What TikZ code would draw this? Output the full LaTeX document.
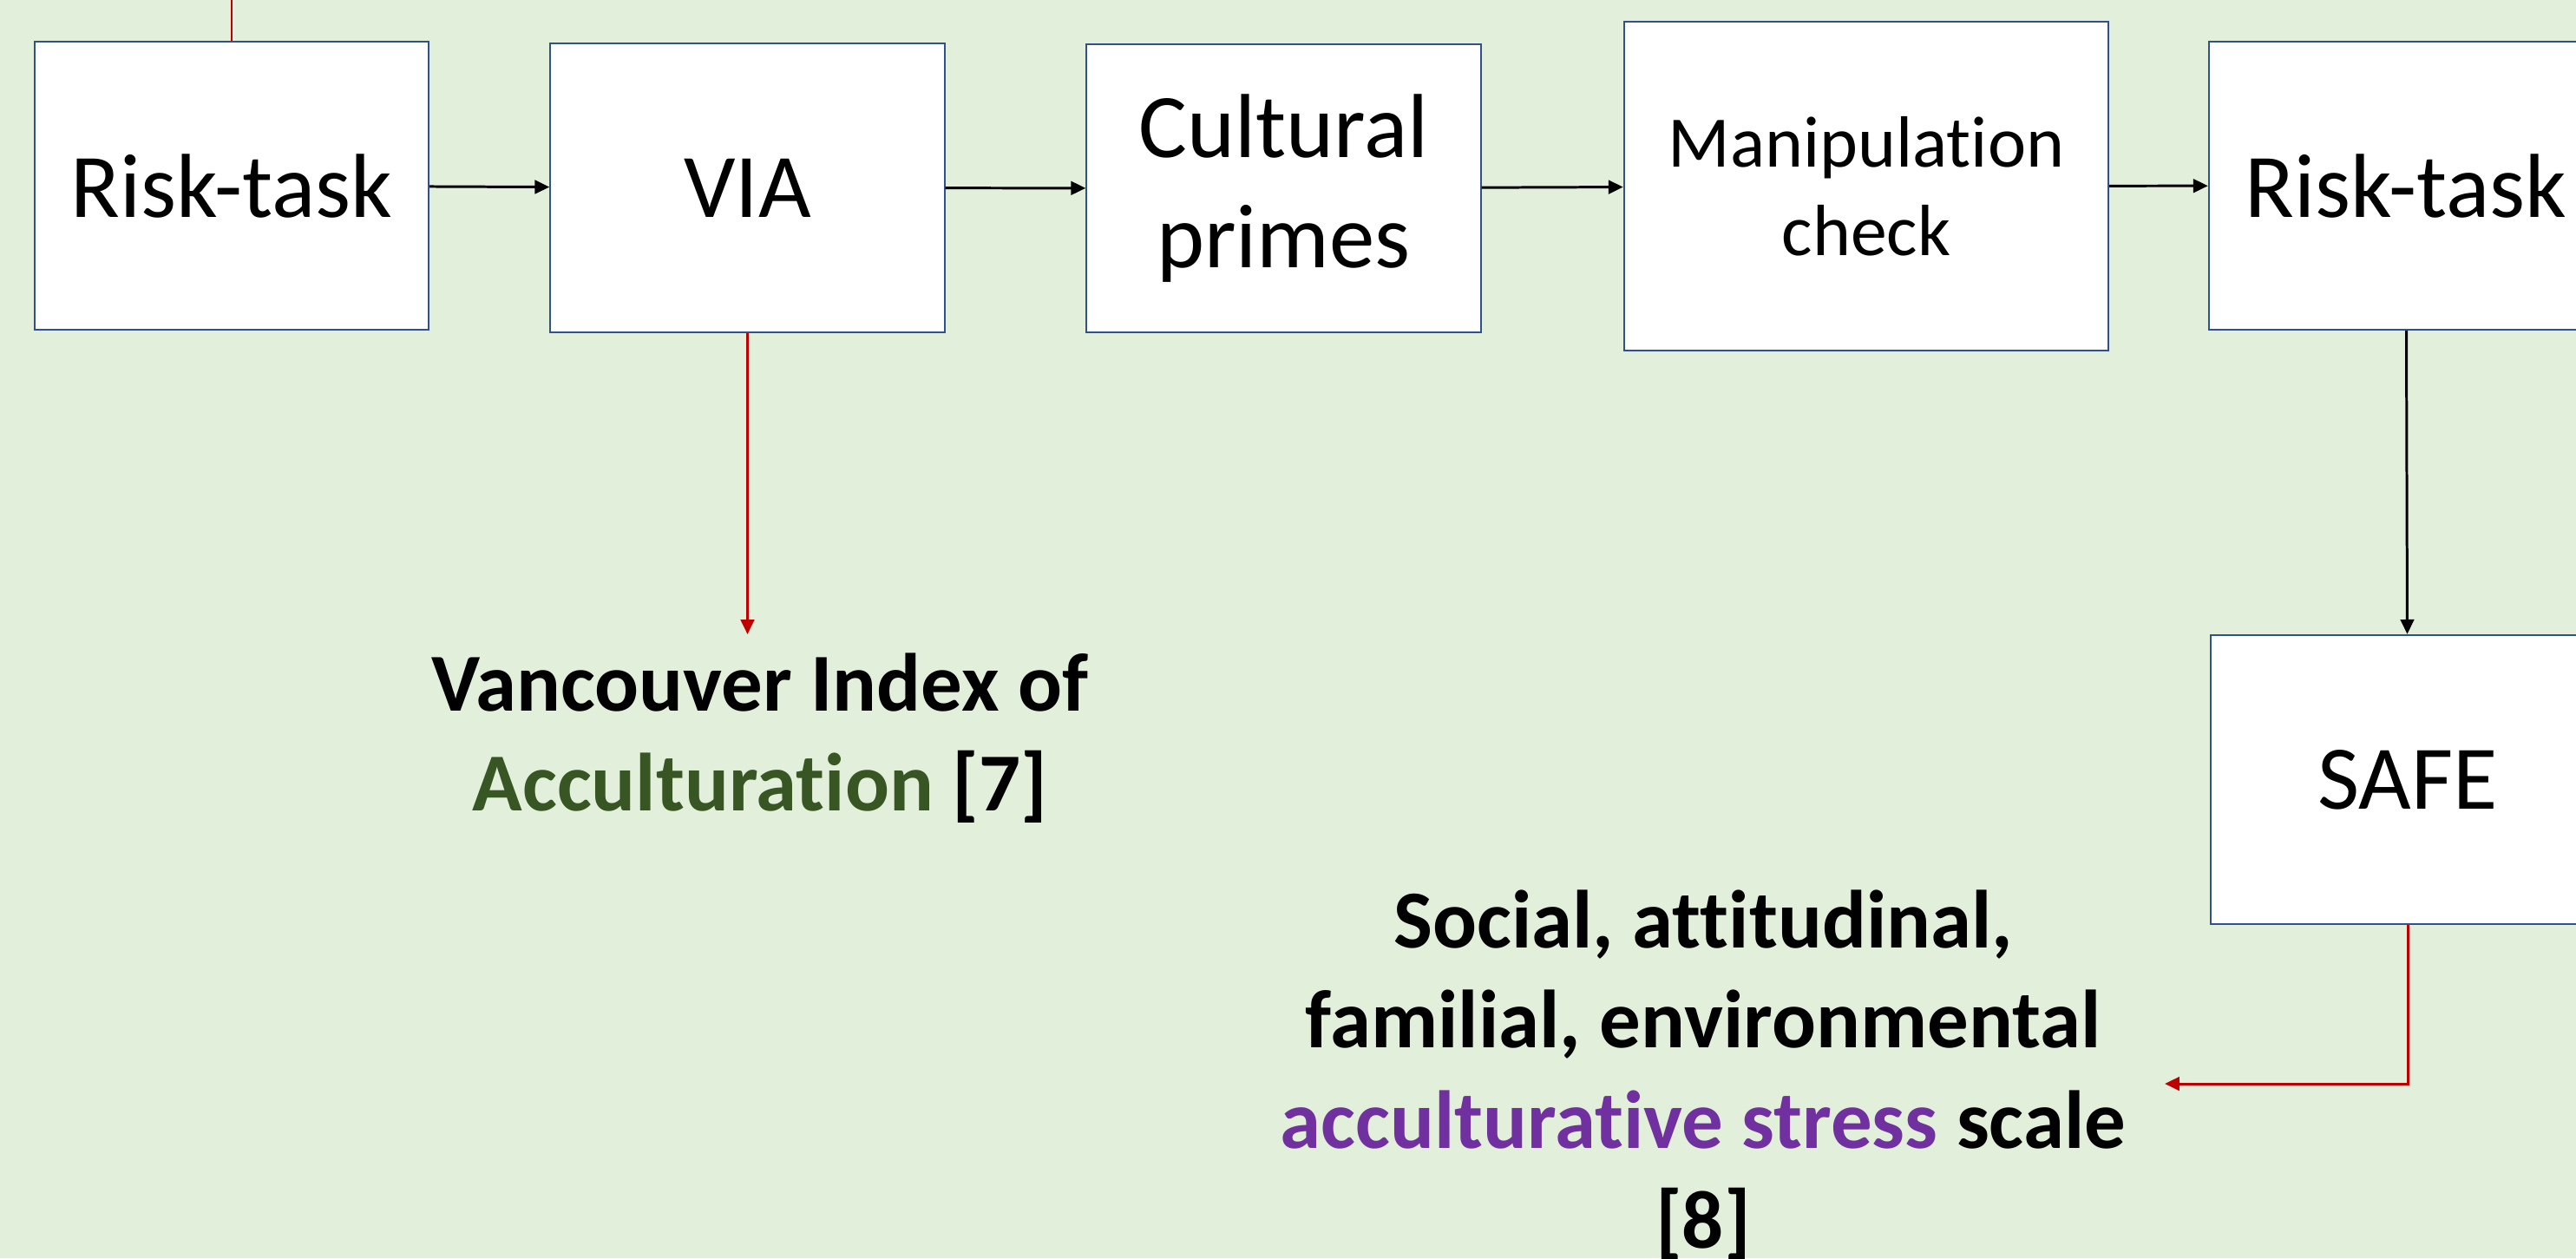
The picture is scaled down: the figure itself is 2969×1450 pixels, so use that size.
\documentclass[tikz,border=0pt]{standalone}
\usepackage{fontspec}
\setmainfont{Carlito}[Ligatures={NoCommon}]
\usepackage{tikz}
\usetikzlibrary{shapes,arrows,arrows.meta}

\definecolor{bggreen}{RGB}{226,239,218}
\definecolor{boxblue}{RGB}{47,82,143}
\definecolor{linkred}{RGB}{192,0,0}
\definecolor{viagreen}{RGB}{55,86,35}
\definecolor{stresspurple}{RGB}{112,48,160}

\tikzset{
  stage/.style={shape=rectangle, draw=boxblue, line width=0.6pt, fill=white, inner sep=0pt,
    align=center, minimum width=4.54cm, minimum height=3.32cm, font=\fontsize{29.8}{36}\selectfont},
  flow/.style={->, line width=0.85pt},
  measure/.style={->, line width=0.85pt, color=linkred},
  source/.style={anchor=north, inner sep=0pt, align=center, font=\bfseries\fontsize{27}{32.8}\selectfont}
}

\begin{document}
\begin{tikzpicture}[x=0.01cm, y=-0.01cm, >={Triangle[length=4.8pt,width=4.4pt]}]
\clip (0,0) rectangle (2969,1450);
\fill [bggreen] (0,0) rectangle (2969,1450);

\node (risk1) at (267,214) [stage] {Risk-task};
\node (via) at (861.5,216.5) [stage] {VIA};
\node (primes) at (1479.5,217) [stage] {Cultural\\primes};
\node (check) at (2151,214.5) [stage, minimum width=5.58cm, minimum height=3.79cm,
  font=\fontsize{23.8}{29}\selectfont] {Manipulation\\check};
\node (risk2) at (2773,214) [stage] {Risk-task};
\node (safe) at (2775,898.5) [stage, minimum height=3.33cm] {SAFE};

\coordinate (above) at (267,-20);
\coordinate (viaend) at (861.5,731);
\coordinate (safeend) at (2495,1249);

\node (vancouver) at (876,752) [source] {Vancouver Index of\\\textcolor{viagreen}{Acculturation} [7]};
\node (stress) at (1963,1025) [source] {Social, attitudinal,\\familial, environmental\\\textcolor{stresspurple}{acculturative stress} scale\\{}[8]};

\draw [flow] (risk1) -- (via);
\draw [flow] (via) -- (primes);
\draw [flow] (primes) -- (check);
\draw [flow] (check) -- (risk2);
\draw [flow] (risk2) -- (safe);

\draw [linkred, line width=0.85pt] (above) -- (risk1);
\draw [measure] (via) -- (viaend);
\draw [measure] (safe) |- (safeend);
\end{tikzpicture}
\end{document}
